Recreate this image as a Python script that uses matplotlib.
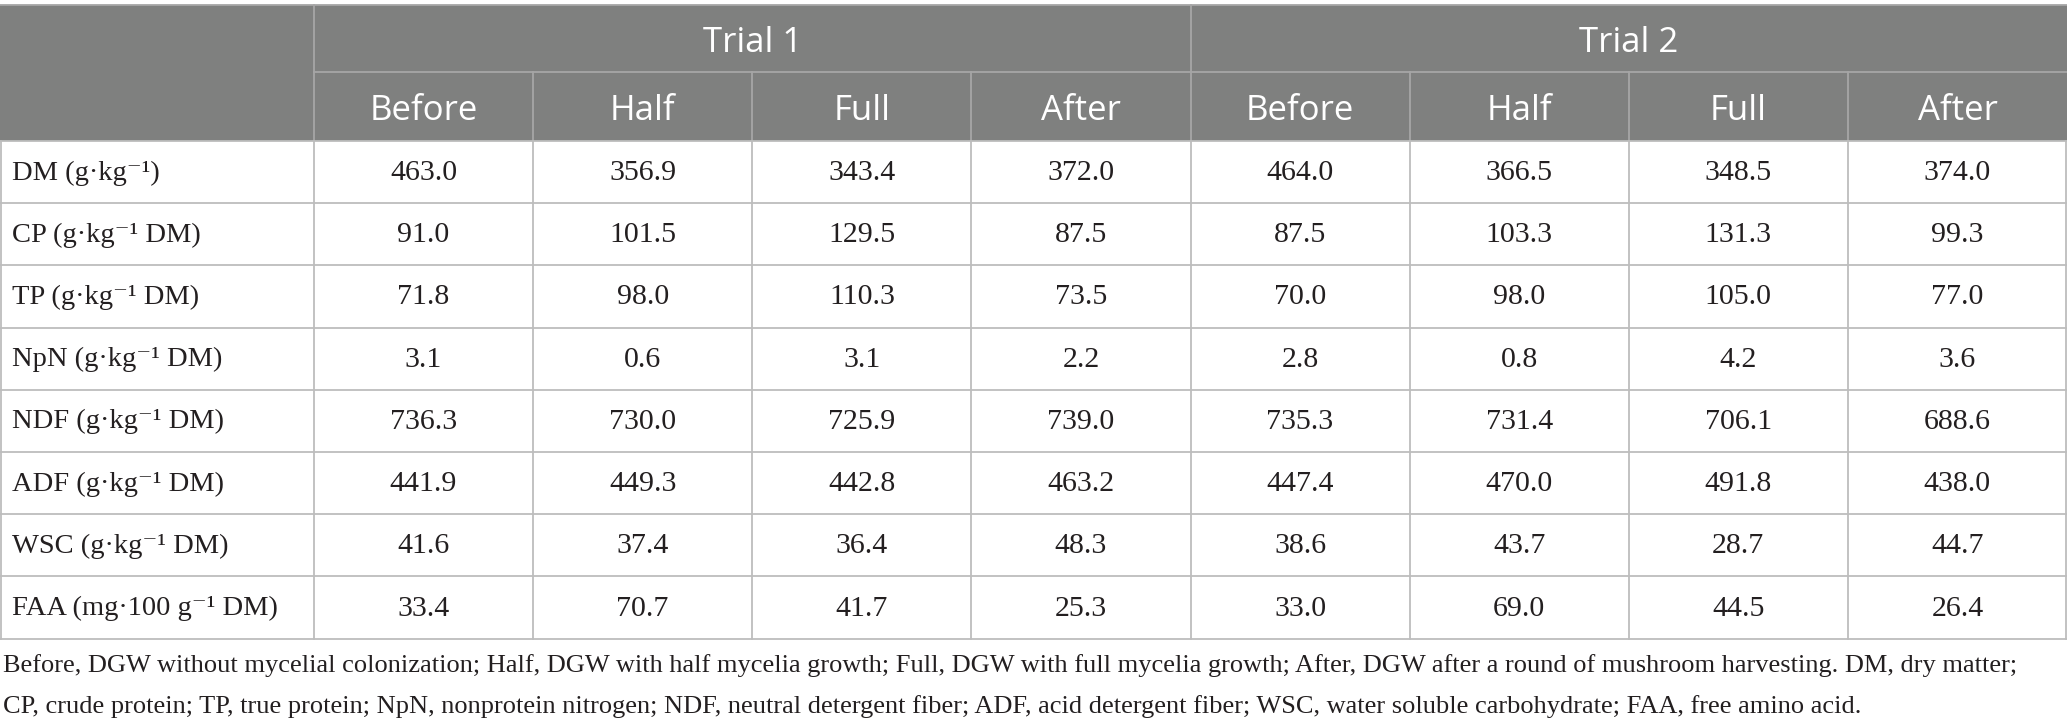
import matplotlib
matplotlib.use("Agg")
import matplotlib.pyplot as plt
from matplotlib.patches import Rectangle

# ---- data ----
trials = ["Trial 1", "Trial 2"]
stages = ["Before", "Half", "Full", "After"]
row_labels = [
    "DM (g·kg⁻¹)",
    "CP (g·kg⁻¹ DM)",
    "TP (g·kg⁻¹ DM)",
    "NpN (g·kg⁻¹ DM)",
    "NDF (g·kg⁻¹ DM)",
    "ADF (g·kg⁻¹ DM)",
    "WSC (g·kg⁻¹ DM)",
    "FAA (mg·100 g⁻¹ DM)",
]
trial1 = [
    ["463.0", "356.9", "343.4", "372.0"],
    ["91.0", "101.5", "129.5", "87.5"],
    ["71.8", "98.0", "110.3", "73.5"],
    ["3.1", "0.6", "3.1", "2.2"],
    ["736.3", "730.0", "725.9", "739.0"],
    ["441.9", "449.3", "442.8", "463.2"],
    ["41.6", "37.4", "36.4", "48.3"],
    ["33.4", "70.7", "41.7", "25.3"],
]
trial2 = [
    ["464.0", "366.5", "348.5", "374.0"],
    ["87.5", "103.3", "131.3", "99.3"],
    ["70.0", "98.0", "105.0", "77.0"],
    ["2.8", "0.8", "4.2", "3.6"],
    ["735.3", "731.4", "706.1", "688.6"],
    ["447.4", "470.0", "491.8", "438.0"],
    ["38.6", "43.7", "28.7", "44.7"],
    ["33.0", "69.0", "44.5", "26.4"],
]
footnote = [
    "Before, DGW without mycelial colonization; Half, DGW with half mycelia growth; Full, DGW with full mycelia growth; After, DGW after a round of mushroom harvesting. DM, dry matter;",
    "CP, crude protein; TP, true protein; NpN, nonprotein nitrogen; NDF, neutral detergent fiber; ADF, acid detergent fiber; WSC, water soluble carbohydrate; FAA, free amino acid.",
]

# ---- layout ----
W, H = 2067, 727
fig = plt.figure(figsize=(W / 100, H / 100), dpi=100)
ax = fig.add_axes([0, 0, 1, 1])
ax.set_xlim(0, W)
ax.set_ylim(H, 0)
ax.axis("off")

header_bg = "#7f807f"
header_line = "#a6a6a6"
grid = "#bdbdbd"
txt = "#231f20"
serif = ["Liberation Serif", "DejaVu Serif"]
sans = ["Open Sans", "DejaVu Sans"]

top = 5
hsplit = 72
hbottom = 141
row_h = 62.2
n_rows = len(row_labels)
tbottom = hbottom + n_rows * row_h
first_w = 314
ncols = len(trials) * len(stages)
col_w = (W - first_w) / ncols
col_edges = [first_w + i * col_w for i in range(ncols + 1)]

# header background
ax.add_patch(Rectangle((0, top), W, hbottom - top, facecolor=header_bg, edgecolor="none"))

# header lines
ax.plot([first_w, W], [hsplit, hsplit], color=header_line, lw=1.3)
for i, x in enumerate(col_edges[:-1]):
    if i % len(stages) == 0:
        ax.plot([x, x], [top, hbottom], color=header_line, lw=1.3)
    else:
        ax.plot([x, x], [hsplit, hbottom], color=header_line, lw=1.3)
ax.plot([0, W], [top, top], color=header_line, lw=1.3)

# header text
for t, name in enumerate(trials):
    x0 = col_edges[t * len(stages)]
    x1 = col_edges[(t + 1) * len(stages)]
    ax.text((x0 + x1) / 2, (top + hsplit) / 2 + 4, name, ha="center", va="center",
            color="white", fontsize=25, family=sans)
    for s, st in enumerate(stages):
        c = t * len(stages) + s
        ax.text((col_edges[c] + col_edges[c + 1]) / 2, (hsplit + hbottom) / 2 + 5, st,
                ha="center", va="center", color="white", fontsize=25, family=sans)

# body grid
for r in range(n_rows + 1):
    y = hbottom + r * row_h
    ax.plot([0, W], [y, y], color=grid, lw=1.3)
for x in [0.7] + col_edges[:-1] + [W - 0.7]:
    ax.plot([x, x], [hbottom, tbottom], color=grid, lw=1.3)

# body text
for r, lab in enumerate(row_labels):
    yc = hbottom + (r + 0.5) * row_h + 1
    ax.text(12, yc, lab, ha="left", va="center", fontsize=20.5, family=serif, color=txt)
    vals = trial1[r] + trial2[r]
    for c, v in enumerate(vals):
        ax.text((col_edges[c] + col_edges[c + 1]) / 2, yc, v, ha="center", va="center",
                fontsize=21.5, family=serif, color=txt)

# footnote
ax.text(3, 666, footnote[0], ha="left", va="center", fontsize=19, family=serif, color=txt)
ax.text(3, 707, footnote[1], ha="left", va="center", fontsize=19, family=serif, color=txt)

fig.savefig("out.png", dpi=100, facecolor="white")
